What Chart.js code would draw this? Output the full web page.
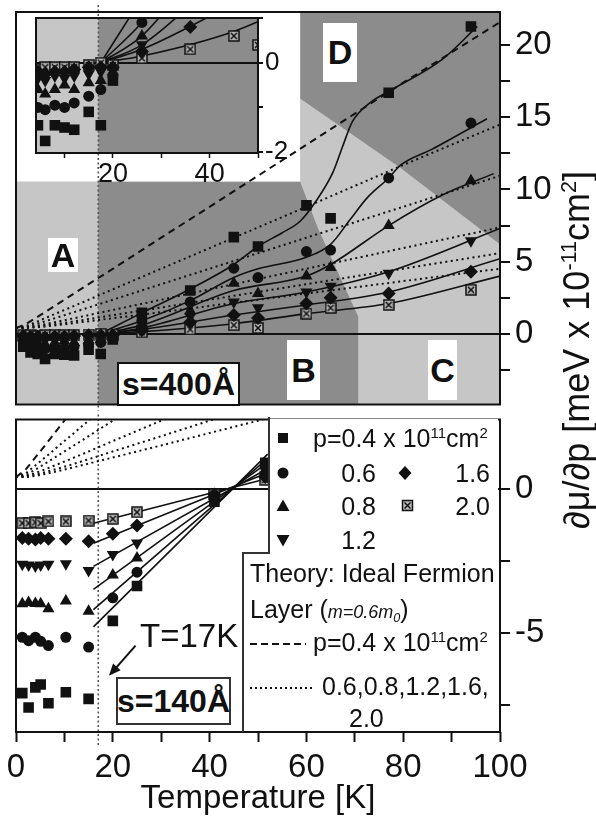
<!DOCTYPE html>
<html lang="en">
<head>
<meta charset="UTF-8">
<title>dmu/dp versus temperature</title>
<script src="https://cdn.jsdelivr.net/npm/chart.js"></script>
<style>
    body {
        margin: 0;
        width: 596px;
        height: 821px;
        position: relative;
        overflow: hidden;
        background: #fff;
        font-family: 'Liberation Sans', Arial, sans-serif;
        color: #111;
    }
    canvas { position: absolute; left: 0; }
    .box {
        position: absolute;
        background: #fff;
        display: flex;
        align-items: center;
        justify-content: center;
        font-weight: bold;
    }
    .txt {
        position: absolute;
        white-space: nowrap;
        line-height: 1;
        transform: translateY(-50%);
    }
    sup { font-size: 60%; vertical-align: 0; position: relative; top: -0.6em; }
    sub { font-size: 70%; vertical-align: 0; position: relative; top: 0.3em; }
</style>
</head>
<body>
<canvas id="topChart" width="596" height="412" style="top:0"></canvas>
<canvas id="insetChart" width="300" height="190" style="top:0"></canvas>
<canvas id="bottomChart" width="596" height="409" style="top:412px"></canvas>

<!-- region labels, top panel -->
<div class="box" style="left:48px;top:238px;width:30px;height:34px;font-size:34px">A</div>
<div class="box" style="left:287px;top:340px;width:33px;height:60px;font-size:34px">B</div>
<div class="box" style="left:428px;top:340px;width:29px;height:60px;font-size:34px">C</div>
<div class="box" style="left:323px;top:23px;width:34px;height:59px;font-size:34px">D</div>
<div class="box" style="left:117px;top:362px;width:119px;height:40px;font-size:32px;border:2px solid #111">s=400Å</div>
<div class="box" style="left:116px;top:677px;width:111px;height:44px;font-size:32px;border:2px solid #333">s=140Å</div>
<div class="txt" style="left:140px;top:635px;font-size:33px">T=17K</div>

<!-- legend, bottom panel -->
<svg width="596" height="821" style="position:absolute;left:0;top:0">
    <polygon points="269,419 498,419 498,731 244,731 244,554 269,554" fill="#fff"/>
    <polyline points="269,417 269,553 243,553 243,732" fill="none" stroke="#333" stroke-width="2"/>
    <rect x="278" y="433" width="10" height="10" fill="#111"/>
    <circle cx="283" cy="473" r="5.5" fill="#111"/>
    <polygon points="283,499.5 289.5,511 276.5,511" fill="#111"/>
    <polygon points="276.5,535 289.5,535 283,546.5" fill="#111"/>
    <polygon points="405,466 411.5,473 405,480 398.5,473" fill="#111"/>
    <rect x="402.5" y="500.5" width="10" height="10" fill="#b5b5b5" stroke="#111" stroke-width="1.5"/>
    <path d="M404.5,502.5 L410.5,508.5 M410.5,502.5 L404.5,508.5" stroke="#111" stroke-width="1.4"/>
    <line x1="250" y1="644" x2="306" y2="644" stroke="#111" stroke-width="2" stroke-dasharray="7 4"/>
    <line x1="250" y1="688" x2="313" y2="688" stroke="#111" stroke-width="2" stroke-dasharray="2 3"/>
</svg>
<div class="txt" style="left:313px;top:438px;font-size:25px">p=0.4 x 10<sup>11</sup>cm<sup>2</sup></div>
<div class="txt" style="left:330px;top:473px;width:46px;text-align:right;font-size:25px">0.6</div>
<div class="txt" style="left:444px;top:473px;width:46px;text-align:right;font-size:25px">1.6</div>
<div class="txt" style="left:330px;top:506px;width:46px;text-align:right;font-size:25px">0.8</div>
<div class="txt" style="left:444px;top:506px;width:46px;text-align:right;font-size:25px">2.0</div>
<div class="txt" style="left:330px;top:540px;width:46px;text-align:right;font-size:25px">1.2</div>
<div class="txt" style="left:250px;top:573px;font-size:25px">Theory: Ideal Fermion</div>
<div class="txt" style="left:250px;top:609px;font-size:25px">Layer (<i style="font-size:18px">m=0.6m<sub>0</sub></i>)</div>
<div class="txt" style="left:313px;top:642px;font-size:25px">p=0.4 x 10<sup>11</sup>cm<sup>2</sup></div>
<div class="txt" style="left:322px;top:686px;font-size:25px">0.6,0.8,1.2,1.6,</div>
<div class="txt" style="left:349px;top:718px;font-size:25px">2.0</div>

<!-- shared y axis title -->
<div class="txt" style="left:577px;top:350px;font-size:36px;transform:translate(-50%,-50%) rotate(-90deg)">∂μ/∂p [meV x 10<sup>-11</sup>cm<sup>2</sup>]</div>

<script>
    // ---- s = 400 A sample (top panel + inset) ----
    const tempS400 = [1.5, 3, 4.5, 6, 8, 10, 12, 15, 17.5, 20, 26, 36, 45, 50, 60, 65, 77, 94];
    const sq400 = [-0.9, -1.3, -1.4, -1.75, -1.4, -1.45, -1.5, -1.1, -1.4, -0.4, 1.45, 3.0, 6.7, 6.05, 8.9, 8.0, 16.7, 21.3];
    const ci400 = [-0.5, -0.8, -1.0, -1.05, -0.95, -1.0, -0.9, -0.75, -0.6, -0.3, 0.9, 2.2, 4.55, 3.9, 5.7, 5.8, 10.8, 14.6];
    const tu400 = [-0.3, -0.5, -0.6, -0.7, -0.6, -0.5, -0.6, -0.45, -0.4, -0.2, 0.6, 1.6, 3.5, 2.8, 4.0, 4.6, 7.5, 10.6];
    const td400 = [-0.2, -0.3, -0.35, -0.4, -0.3, -0.35, -0.3, -0.25, -0.2, -0.15, 0.4, 1.2, 2.2, 1.8, 2.9, 3.3, 4.2, 6.45];
    const di400 = [-0.15, -0.2, -0.2, -0.25, -0.2, -0.2, -0.15, -0.1, -0.1, -0.1, 0.25, 0.8, 1.3, 1.1, 2.1, 2.5, 2.8, 4.3];
    const cx400 = [-0.1, -0.1, -0.15, -0.1, -0.1, -0.1, -0.1, -0.05, 0, -0.05, 0.1, 0.3, 0.6, 0.4, 1.4, 1.8, 2.0, 3.05];

    // fitted curves through the 400 A data
    const fitSqT = [17.5, 26, 36, 45, 50, 55, 58.7, 62, 65.5, 67.5, 69.5, 73.5, 77, 88, 95.3];
    const fitSqV = [0, 1.45, 3.1, 4.8, 6.05, 7.0, 7.8, 9.2, 11.2, 13.0, 14.7, 16.1, 16.8, 19.0, 21.3];
    const fitCiT = [17.5, 26, 36, 45, 50, 60, 65, 69, 72.5, 77, 79.5, 86, 97.3];
    const fitCiV = [0, 0.9, 2.3, 3.9, 4.5, 5.3, 6.2, 7.9, 9.4, 10.8, 11.7, 12.8, 14.9];
    const fitTuT = [17.5, 26, 45, 60, 65, 77, 88, 98.7];
    const fitTuV = [0, 0.6, 3.0, 4.0, 4.8, 7.5, 9.6, 11.1];
    const fitLowT = [17.5, 26, 45, 60, 77, 100];
    const fitTdV = [0, 0.4, 2.1, 2.9, 4.3, 7.3];
    const fitDiV = [0, 0.3, 1.3, 2.0, 2.9, 5.2];
    const fitCxV = [0, 0.15, 0.7, 1.4, 2.1, 4.0];

    // ---- s = 140 A sample (bottom panel) ----
    const tempS140 = [1.3, 2.6, 4, 5.1, 6.7, 10.3, 15, 20, 25, 41, 51.5];
    const sq140 = [-7.1, -7.6, -6.9, -6.8, -7.45, -7.07, -7.3, -4.59, -3.38, -0.45, 0.9];
    const ci140 = [-5.16, -5.28, -5.16, -5.3, -5.45, -5.16, -5.5, -3.79, -2.9, -0.35, 0.75];
    const tu140 = [-4.0, -3.95, -3.99, -4.0, -4.17, -3.9, -4.26, -3.0, -2.41, -0.3, 0.6];
    const td140 = [-2.63, -2.65, -2.69, -2.65, -2.63, -2.61, -2.84, -2.29, -1.89, -0.25, 0.5];
    const di140 = [-1.71, -1.74, -1.77, -1.71, -1.74, -1.74, -1.83, -1.57, -1.28, -0.2, 0.4];
    const cx140 = [-1.2, -1.2, -1.17, -1.2, -1.14, -1.14, -1.11, -1.05, -0.82, -0.2, 0.3];

    const fit140T = [16, 52];
    const fitSq140 = [-4.8, 1.2];
    const fitCi140 = [-4.2, 1.05];
    const fitTu140 = [-3.5, 0.9];
    const fitTd140 = [-2.7, 0.7];
    const fitDi140 = [-1.9, 0.55];
    const fitCx140 = [-1.2, 0.35];

    // ---- ideal fermion layer theory, m = 0.6 m0 ----
    const theoryT = [0, 2, 5, 10, 15, 20, 30, 40, 60, 80, 100];
    const th04 = [0.4, 0.66, 1.29, 2.36, 3.44, 4.5, 6.66, 8.8, 13.1, 17.4, 21.6];
    const th06 = [0.4, 0.53, 0.94, 1.65, 2.36, 3.08, 4.51, 5.94, 8.8, 11.7, 14.5];
    const th08 = [0.4, 0.47, 0.76, 1.29, 1.82, 2.36, 3.44, 4.51, 6.66, 8.8, 10.95];
    const th12 = [0.4, 0.43, 0.6, 0.94, 1.29, 1.65, 2.36, 3.08, 4.51, 5.94, 7.37];
    const th16 = [0.4, 0.41, 0.52, 0.76, 1.02, 1.29, 1.82, 2.36, 3.44, 4.51, 5.59];
    const th20 = [0.4, 0.4, 0.47, 0.66, 0.87, 1.08, 1.5, 1.93, 2.79, 3.65, 4.51];

    // shaded regions of the top panel, in (T, value) pairs
    const markT = 17;
    const regionB = [[17, 10.55], [58.7, 10.55], [62.4, 7.3], [67, 3.9], [70.7, 1.2], [70.7, -10], [17, -10]];
    const regionD = [[58.7, 30], [100, 30], [100, 6.2], [79.4, 11.5], [58.7, 16.3]];
    const regionWhite = [[0, 10.55], [58.7, 10.55], [58.7, 30], [0, 30]];
    const insetDark = [[17, -5], [60, -5], [60, 5], [17, 5]];

    const FONT = "'Liberation Sans', Arial, sans-serif";
    const INK = '#111';
    const LIGHT = '#c6c6c6';
    const DARK = '#8c8c8c';

    Chart.defaults.font.family = FONT;
    Chart.defaults.color = INK;

    function xy(ts, vs) {
        return ts.map((t, i) => ({ x: t, y: vs[i] })).filter(p => p.y !== null);
    }

    function crossBox(size) {
        const c = document.createElement('canvas');
        c.width = size; c.height = size;
        const g = c.getContext('2d');
        g.fillStyle = '#b5b5b5';
        g.fillRect(1, 1, size - 2, size - 2);
        g.strokeStyle = INK;
        g.lineWidth = 1.5;
        g.strokeRect(1, 1, size - 2, size - 2);
        g.beginPath();
        g.moveTo(3, 3); g.lineTo(size - 3, size - 3);
        g.moveTo(size - 3, 3); g.lineTo(3, size - 3);
        g.stroke();
        return c;
    }

    const markers = [
        { pointStyle: 'rect', pointRadius: 7.5 },
        { pointStyle: 'circle', pointRadius: 5.5 },
        { pointStyle: 'triangle', pointRadius: 7 },
        { pointStyle: 'triangle', pointRadius: 7, pointRotation: 180 },
        { pointStyle: 'rectRot', pointRadius: 7 },
        { pointStyle: crossBox(12), pointRadius: 6 }
    ];

    function pointSets(temps, series) {
        return series.map((vals, i) => Object.assign({
            data: xy(temps, vals),
            pointBackgroundColor: INK,
            pointBorderColor: INK,
            pointBorderWidth: 0,
            pointHoverRadius: 0,
            showLine: false,
            order: 0
        }, markers[i]));
    }

    function lineSet(data, dash, width, smooth) {
        return {
            data: data,
            showLine: true,
            pointRadius: 0,
            borderColor: INK,
            borderWidth: width,
            borderDash: dash,
            cubicInterpolationMode: smooth ? 'monotone' : 'default',
            order: dash.length ? 2 : 1
        };
    }

    function theorySets() {
        return [
            lineSet(xy(theoryT, th04), [7, 5], 2, false),
            ...[th06, th08, th12, th16, th20].map(v => lineSet(xy(theoryT, v), [2, 3.5], 2, false))
        ];
    }

    const fit400 = [
        xy(fitSqT, fitSqV), xy(fitCiT, fitCiV), xy(fitTuT, fitTuV),
        xy(fitLowT, fitTdV), xy(fitLowT, fitDiV), xy(fitLowT, fitCxV)
    ].map(d => lineSet(d, [], 1.6, true));

    const fit140 = [fitSq140, fitCi140, fitTu140, fitTd140, fitDi140, fitCx140]
        .map(v => lineSet(xy(fit140T, v), [], 1.6, false));

    const meas400 = [sq400, ci400, tu400, td400, di400, cx400];
    const meas140 = [sq140, ci140, tu140, td140, di140, cx140];

    // background shading drawn through the scales
    const shadePlugin = {
        id: 'shade',
        beforeDraw(chart, args, opts) {
            const { ctx, chartArea: a, scales: { x, y } } = chart;
            ctx.save();
            ctx.beginPath();
            ctx.rect(a.left, a.top, a.width, a.height);
            ctx.clip();
            ctx.fillStyle = opts.base || '#fff';
            ctx.fillRect(a.left, a.top, a.width, a.height);
            (opts.areas || []).forEach(area => {
                ctx.fillStyle = area.color;
                ctx.beginPath();
                area.pts.forEach(([t, v], i) => {
                    const px = x.getPixelForValue(t), py = y.getPixelForValue(v);
                    if (i) ctx.lineTo(px, py); else ctx.moveTo(px, py);
                });
                ctx.closePath();
                ctx.fill();
            });
            ctx.restore();
        }
    };

    // T = 17 K marker line, frame and arrow
    const decorPlugin = {
        id: 'decor',
        beforeDatasetsDraw(chart, args, o) {
            const { ctx, chartArea: a, scales: { x } } = chart;
            const px = x.getPixelForValue(markT);
            ctx.save();
            ctx.strokeStyle = '#555';
            ctx.lineWidth = 1.6;
            ctx.setLineDash([2, 2.5]);
            ctx.beginPath();
            ctx.moveTo(px, a.top - (o.above || 0));
            ctx.lineTo(px, a.bottom + (o.below || 0));
            ctx.stroke();
            ctx.restore();
        },
        afterDatasetsDraw(chart, args, o) {
            const { ctx, chartArea: a, scales: { x, y } } = chart;
            ctx.save();
            ctx.strokeStyle = INK;
            ctx.lineWidth = 2;
            ctx.strokeRect(a.left, a.top, a.width, a.height);
            if (o.arrow) {
                const x0 = x.getPixelForValue(o.arrow[0][0]), y0 = y.getPixelForValue(o.arrow[0][1]);
                const x1 = x.getPixelForValue(o.arrow[1][0]), y1 = y.getPixelForValue(o.arrow[1][1]);
                const ang = Math.atan2(y1 - y0, x1 - x0);
                ctx.lineWidth = 2;
                ctx.beginPath();
                ctx.moveTo(x0, y0);
                ctx.lineTo(x1 - 8 * Math.cos(ang), y1 - 8 * Math.sin(ang));
                ctx.stroke();
                ctx.fillStyle = INK;
                ctx.beginPath();
                ctx.moveTo(x1, y1);
                ctx.lineTo(x1 - 13 * Math.cos(ang - 0.4), y1 - 13 * Math.sin(ang - 0.4));
                ctx.lineTo(x1 - 13 * Math.cos(ang + 0.4), y1 - 13 * Math.sin(ang + 0.4));
                ctx.closePath();
                ctx.fill();
            }
            ctx.restore();
        }
    };

    function zeroGrid(tickLen) {
        return {
            drawOnChartArea: true,
            color: c => (c.tick && c.tick.value === 0) ? INK : 'rgba(0,0,0,0)',
            lineWidth: 2,
            tickColor: INK,
            tickLength: tickLen,
            tickWidth: 2
        };
    }

    function fixSize(w, h) {
        return s => {
            if (w !== null) s.width = w;
            if (h !== null) s.height = h;
            s.paddingTop = 0; s.paddingBottom = 0; s.paddingLeft = 0; s.paddingRight = 0;
        };
    }

    const baseOpts = {
        responsive: false,
        animation: false,
        events: []
    };

    // top panel, s = 400 A
    new Chart(document.getElementById('topChart'), {
        type: 'scatter',
        data: { datasets: [...pointSets(tempS400, meas400), ...fit400, ...theorySets()] },
        plugins: [shadePlugin, decorPlugin],
        options: Object.assign({}, baseOpts, {
            layout: { padding: { left: 16, top: 12, right: 0, bottom: 5 } },
            plugins: {
                legend: { display: false },
                tooltip: { enabled: false },
                shade: {
                    base: LIGHT,
                    areas: [
                        { color: DARK, pts: regionB },
                        { color: DARK, pts: regionD },
                        { color: '#fff', pts: regionWhite }
                    ]
                },
                decor: { above: 7, below: 6 }
            },
            scales: {
                x: { type: 'linear', min: 0, max: 100, display: false },
                y: {
                    position: 'right',
                    min: -4.9,
                    max: 22.3,
                    border: { display: false },
                    grid: zeroGrid(10),
                    ticks: {
                        stepSize: 2.5,
                        includeBounds: false,
                        autoSkip: false,
                        padding: 5,
                        font: { size: 33 },
                        callback: v => (v % 5 === 0) ? String(v) : ''
                    },
                    afterFit: fixSize(96, null)
                }
            }
        })
    });

    // inset of the top panel
    new Chart(document.getElementById('insetChart'), {
        type: 'scatter',
        data: { datasets: [...pointSets(tempS400, meas400), ...fit400] },
        plugins: [shadePlugin, decorPlugin],
        options: Object.assign({}, baseOpts, {
            layout: { padding: { left: 36, top: 18, right: 0, bottom: 0 } },
            plugins: {
                legend: { display: false },
                tooltip: { enabled: false },
                shade: { base: LIGHT, areas: [{ color: DARK, pts: insetDark }] },
                decor: {}
            },
            scales: {
                x: {
                    type: 'linear',
                    min: 4.1,
                    max: 50,
                    border: { display: false },
                    grid: { drawOnChartArea: false, tickColor: INK, tickLength: 5, tickWidth: 1.5 },
                    ticks: {
                        stepSize: 10,
                        includeBounds: false,
                        autoSkip: false,
                        maxRotation: 0,
                        padding: 0,
                        font: { size: 27 },
                        callback: v => (v === 20 || v === 40) ? String(v) : ''
                    },
                    afterFit: fixSize(null, 37)
                },
                y: {
                    position: 'right',
                    min: -2.02,
                    max: 1,
                    border: { display: false },
                    grid: zeroGrid(5),
                    ticks: {
                        stepSize: 1,
                        includeBounds: false,
                        autoSkip: false,
                        padding: 2,
                        font: { size: 26 },
                        callback: v => (v === 0 || v === -2) ? String(v) : ''
                    },
                    afterFit: fixSize(42, null)
                }
            }
        })
    });

    // bottom panel, s = 140 A
    new Chart(document.getElementById('bottomChart'), {
        type: 'scatter',
        data: { datasets: [...pointSets(tempS140, meas140), ...fit140, ...theorySets()] },
        plugins: [shadePlugin, decorPlugin],
        options: Object.assign({}, baseOpts, {
            layout: { padding: { left: 16, top: 5, right: 0, bottom: 0 } },
            plugins: {
                legend: { display: false },
                tooltip: { enabled: false },
                shade: { base: '#fff', areas: [] },
                decor: { above: 5, below: 13, arrow: [[24.7, -5.45], [19.2, -6.5]] }
            },
            scales: {
                x: {
                    type: 'linear',
                    min: 0,
                    max: 100,
                    border: { display: false },
                    grid: { drawOnChartArea: false, tickColor: INK, tickLength: 10, tickWidth: 2 },
                    ticks: {
                        stepSize: 10,
                        autoSkip: false,
                        maxRotation: 0,
                        padding: 6,
                        font: { size: 33 },
                        callback: v => (v % 20 === 0) ? String(v) : ''
                    },
                    title: {
                        display: true,
                        text: 'Temperature [K]',
                        font: { size: 33 },
                        padding: { top: 0, bottom: 2 }
                    },
                    afterFit: fixSize(null, 89)
                },
                y: {
                    position: 'right',
                    min: -8.45,
                    max: 2.4,
                    border: { display: false },
                    grid: zeroGrid(10),
                    ticks: {
                        stepSize: 2.5,
                        includeBounds: false,
                        autoSkip: false,
                        padding: 5,
                        font: { size: 33 },
                        callback: v => (v % 5 === 0) ? String(v) : ''
                    },
                    afterFit: fixSize(96, null)
                }
            }
        })
    });
</script>
</body>
</html>
